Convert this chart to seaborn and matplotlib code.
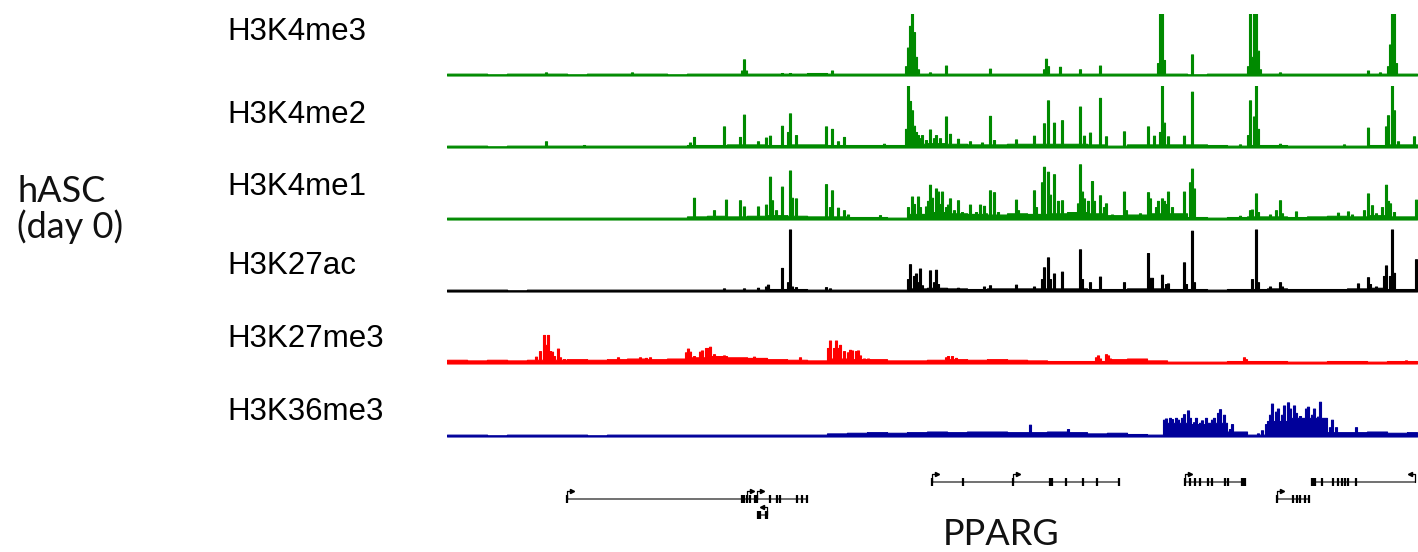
import numpy as np
import pandas as pd
import matplotlib
matplotlib.use("Agg")
import matplotlib.pyplot as plt
import seaborn as sns

W, H = 1418, 552
SPAN = 970  # browser window width, in genome positions (one per screen column)

track_names = ["H3K4me3", "H3K4me2", "H3K4me1", "H3K27ac", "H3K27me3", "H3K36me3"]
track_colors = ["#008a00", "#008a00", "#008a00", "#000000", "#ff0000", "#00009a"]

# background coverage per 20-position block (fraction of the track scale)
k4me3_base = [0.03, 0.03, 0.02, 0.03, 0.03, 0.03, 0.02, 0.03, 0.03, 0.03,
              0.03, 0.02, 0.03, 0.03, 0.03, 0.03, 0.03, 0.03, 0.04, 0.03,
              0.03, 0.03, 0.03, 0.03, 0.03, 0.03, 0.03, 0.03, 0.03, 0.03,
              0.03, 0.03, 0.03, 0.03, 0.03, 0.03, 0.03, 0.02, 0.03, 0.03,
              0.03, 0.03, 0.03, 0.03, 0.03, 0.03, 0.03, 0.03, 0.03]
k4me2_base = [0.03, 0.03, 0.02, 0.03, 0.03, 0.03, 0.03, 0.03, 0.03, 0.03,
              0.03, 0.03, 0.04, 0.04, 0.05, 0.05, 0.04, 0.05, 0.05, 0.04,
              0.04, 0.04, 0.04, 0.06, 0.07, 0.06, 0.05, 0.05, 0.06, 0.06,
              0.06, 0.06, 0.05, 0.03, 0.05, 0.05, 0.05, 0.05, 0.04, 0.03,
              0.04, 0.04, 0.03, 0.03, 0.03, 0.03, 0.04, 0.05, 0.05]
k4me1_base = [0.03, 0.03, 0.03, 0.03, 0.03, 0.03, 0.03, 0.03, 0.03, 0.03,
              0.03, 0.03, 0.05, 0.06, 0.05, 0.06, 0.07, 0.06, 0.05, 0.05,
              0.04, 0.04, 0.03, 0.09, 0.12, 0.1, 0.09, 0.08, 0.1, 0.09,
              0.1, 0.12, 0.1, 0.07, 0.08, 0.1, 0.1, 0.04, 0.03, 0.04,
              0.05, 0.05, 0.04, 0.05, 0.06, 0.05, 0.07, 0.05, 0.05]
k27ac_base = [0.03, 0.03, 0.03, 0.02, 0.03, 0.03, 0.03, 0.03, 0.03, 0.03,
              0.03, 0.03, 0.03, 0.03, 0.03, 0.03, 0.04, 0.04, 0.03, 0.03,
              0.03, 0.03, 0.03, 0.05, 0.06, 0.05, 0.04, 0.05, 0.05, 0.05,
              0.05, 0.05, 0.04, 0.04, 0.05, 0.05, 0.04, 0.04, 0.03, 0.04,
              0.04, 0.05, 0.04, 0.04, 0.04, 0.05, 0.06, 0.04, 0.04]
k27me3_base = [0.06, 0.05, 0.06, 0.05, 0.06, 0.06, 0.07, 0.06, 0.07, 0.08,
               0.07, 0.08, 0.1, 0.12, 0.1, 0.09, 0.07, 0.06, 0.05, 0.08,
               0.07, 0.07, 0.05, 0.05, 0.06, 0.07, 0.06, 0.07, 0.06, 0.05,
               0.04, 0.04, 0.04, 0.07, 0.08, 0.05, 0.03, 0.03, 0.03, 0.04,
               0.04, 0.04, 0.03, 0.03, 0.04, 0.04, 0.03, 0.04, 0.04]
k36me3_base = [0.03, 0.03, 0.02, 0.03, 0.03, 0.03, 0.03, 0.02, 0.03, 0.03,
               0.03, 0.03, 0.03, 0.03, 0.03, 0.03, 0.03, 0.03, 0.03, 0.05,
               0.06, 0.07, 0.06, 0.07, 0.08, 0.07, 0.08, 0.08, 0.07, 0.07,
               0.08, 0.07, 0.05, 0.06, 0.04, 0.03, 0.22, 0.2, 0.22, 0.08,
               0.03, 0.25, 0.3, 0.3, 0.07, 0.07, 0.08, 0.06, 0.07]

# enriched bins: (position, height as fraction of the track scale)
k4me3_peaks = [(98, 0.05), (185, 0.05), (294, 0.08), (296, 0.26), (298, 0.08),
               (335, 0.04), (343, 0.04), (385, 0.08), (458, 0.15), (460, 0.45),
               (462, 0.8), (464, 1.0), (466, 0.7), (468, 0.3), (470, 0.1),
               (483, 0.05), (498, 0.16), (543, 0.11), (596, 0.1), (599, 0.27),
               (601, 0.15), (613, 0.14), (633, 0.1), (653, 0.16), (711, 0.2),
               (713, 1.0), (715, 1.0), (717, 0.25), (745, 0.34), (801, 0.15),
               (803, 1.0), (805, 0.3), (807, 1.0), (809, 1.0), (811, 0.4),
               (813, 0.1), (833, 0.05), (920, 0.08), (933, 0.05), (941, 0.15),
               (943, 0.5), (945, 1.0), (947, 1.0), (949, 0.2)]
k4me2_peaks = [(98, 0.1), (136, 0.04), (243, 0.08), (246, 0.17), (270, 0.04),
               (277, 0.34), (293, 0.17), (296, 0.53), (311, 0.1), (318, 0.16),
               (322, 0.19), (334, 0.35), (340, 0.25), (342, 0.55), (348, 0.2),
               (379, 0.34), (385, 0.3), (391, 0.1), (396, 0.17), (436, 0.06),
               (459, 0.3), (461, 1.0), (463, 0.75), (465, 0.6), (467, 0.35),
               (469, 0.25), (471, 0.2), (473, 0.15), (475, 0.2), (478, 0.12),
               (482, 0.29), (486, 0.15), (489, 0.2), (493, 0.15), (498, 0.5),
               (503, 0.22), (511, 0.14), (523, 0.1), (535, 0.08), (543, 0.51),
               (546, 0.12), (568, 0.13), (586, 0.19), (597, 0.39), (600, 0.76),
               (607, 0.4), (614, 0.44), (632, 0.66), (637, 0.19), (643, 0.24),
               (653, 0.8), (659, 0.18), (676, 0.26), (700, 0.34), (706, 0.19),
               (713, 0.25), (715, 1.0), (717, 0.4), (720, 0.18), (737, 0.19),
               (745, 0.9), (793, 0.05), (801, 0.2), (803, 0.76), (806, 0.5),
               (808, 1.0), (811, 0.3), (833, 0.06), (896, 0.05), (920, 0.32),
               (938, 0.34), (941, 0.52), (944, 1.0), (946, 0.6), (950, 0.1),
               (966, 0.18)]
k4me1_peaks = [(246, 0.35), (266, 0.15), (278, 0.32), (293, 0.31), (296, 0.21),
               (311, 0.21), (318, 0.24), (322, 0.69), (325, 0.31), (328, 0.15),
               (334, 0.53), (342, 0.79), (345, 0.35), (348, 0.34), (379, 0.57),
               (382, 0.2), (385, 0.47), (390, 0.19), (396, 0.15), (400, 0.08),
               (433, 0.07), (461, 0.2), (464, 0.37), (467, 0.25), (470, 0.37),
               (473, 0.2), (478, 0.21), (480, 0.3), (483, 0.56), (485, 0.35),
               (488, 0.5), (490, 0.45), (493, 0.25), (495, 0.45), (498, 0.2),
               (500, 0.24), (503, 0.34), (506, 0.15), (511, 0.31), (515, 0.12),
               (523, 0.24), (528, 0.12), (532, 0.24), (536, 0.22), (539, 0.1),
               (543, 0.47), (546, 0.44), (550, 0.12), (568, 0.32), (571, 0.15),
               (586, 0.47), (589, 0.2), (595, 0.6), (597, 0.85), (600, 0.77),
               (603, 0.4), (607, 0.73), (610, 0.3), (614, 0.31), (623, 0.1),
               (630, 0.26), (632, 0.89), (635, 0.45), (637, 0.34), (640, 0.3),
               (644, 0.62), (647, 0.3), (653, 0.39), (656, 0.2), (659, 0.26),
               (665, 0.08), (676, 0.45), (679, 0.15), (693, 0.1), (700, 0.44),
               (703, 0.34), (708, 0.2), (711, 0.3), (714, 0.34), (716, 0.3),
               (719, 0.25), (721, 0.45), (724, 0.2), (737, 0.45), (743, 0.6),
               (745, 0.82), (747, 0.5), (793, 0.06), (803, 0.15), (805, 0.16),
               (808, 0.42), (811, 0.12), (823, 0.08), (829, 0.15), (832, 0.31),
               (835, 0.1), (848, 0.13), (891, 0.11), (901, 0.13), (905, 0.08),
               (917, 0.15), (920, 0.42), (925, 0.23), (929, 0.1), (935, 0.2),
               (938, 0.56), (941, 0.3), (943, 0.26), (947, 0.12), (968, 0.32)]
k27ac_peaks = [(276, 0.05), (296, 0.05), (311, 0.06), (319, 0.08), (321, 0.11),
               (334, 0.38), (340, 0.15), (342, 1.0), (345, 0.08), (348, 0.07),
               (379, 0.07), (383, 0.05), (461, 0.2), (463, 0.44), (466, 0.25),
               (468, 0.29), (470, 0.15), (472, 0.37), (475, 0.1), (483, 0.34),
               (486, 0.15), (488, 0.35), (490, 0.12), (511, 0.06), (536, 0.08),
               (543, 0.1), (569, 0.11), (586, 0.08), (594, 0.2), (596, 0.39),
               (600, 0.55), (603, 0.2), (607, 0.29), (614, 0.32), (632, 0.68),
               (634, 0.2), (642, 0.15), (653, 0.24), (676, 0.15), (700, 0.62),
               (703, 0.22), (705, 0.22), (715, 0.27), (718, 0.12), (721, 0.13),
               (737, 0.47), (739, 0.12), (745, 0.98), (747, 0.15), (805, 0.2),
               (808, 1.0), (810, 0.15), (822, 0.08), (832, 0.15), (835, 0.08),
               (911, 0.13), (920, 0.23), (922, 0.12), (929, 0.08), (937, 0.25),
               (939, 0.42), (943, 0.25), (945, 1.0), (947, 0.3), (968, 0.52)]
k27me3_peaks = [(88, 0.11), (92, 0.2), (96, 0.46), (98, 0.3), (100, 0.46),
                (102, 0.2), (104, 0.19), (106, 0.12), (110, 0.24), (113, 0.1),
                (116, 0.07), (170, 0.1), (193, 0.1), (198, 0.09), (203, 0.1),
                (238, 0.18), (240, 0.24), (243, 0.19), (246, 0.12), (249, 0.1),
                (253, 0.19), (255, 0.21), (258, 0.25), (261, 0.25), (263, 0.27),
                (266, 0.15), (276, 0.13), (283, 0.08), (306, 0.11), (353, 0.1),
                (381, 0.25), (383, 0.37), (386, 0.25), (388, 0.37), (391, 0.25),
                (393, 0.3), (396, 0.2), (400, 0.18), (403, 0.22), (405, 0.21),
                (408, 0.2), (410, 0.21), (413, 0.13), (416, 0.08), (420, 0.08),
                (498, 0.1), (501, 0.12), (504, 0.12), (508, 0.09), (648, 0.1),
                (650, 0.13), (653, 0.08), (658, 0.15), (660, 0.13), (663, 0.08),
                (796, 0.1), (799, 0.07), (958, 0.05)]
k36me3_peaks = [(582, 0.19), (620, 0.12), (716, 0.27), (719, 0.29), (722, 0.3),
                (725, 0.28), (728, 0.3), (731, 0.27), (734, 0.3), (737, 0.36),
                (740, 0.42), (743, 0.3), (746, 0.23), (749, 0.3), (752, 0.22),
                (755, 0.26), (758, 0.3), (761, 0.22), (764, 0.27), (767, 0.3),
                (770, 0.38), (773, 0.44), (776, 0.35), (779, 0.2), (782, 0.12),
                (785, 0.2), (788, 0.08), (811, 0.05), (815, 0.1), (819, 0.2),
                (822, 0.35), (825, 0.53), (828, 0.4), (831, 0.45), (834, 0.35),
                (837, 0.5), (840, 0.55), (843, 0.45), (846, 0.5), (849, 0.38),
                (852, 0.33), (855, 0.3), (858, 0.45), (861, 0.48), (864, 0.35),
                (867, 0.45), (870, 0.32), (873, 0.56), (876, 0.3), (879, 0.2),
                (882, 0.15), (885, 0.27), (888, 0.15), (891, 0.06), (908, 0.15)]

track_bases = [k4me3_base, k4me2_base, k4me1_base, k27ac_base, k27me3_base, k36me3_base]
track_peaks = [k4me3_peaks, k4me2_peaks, k4me1_peaks, k27ac_peaks, k27me3_peaks, k36me3_peaks]

# gene models (RefSeq-style): body, exons, transcription start sites
gene_start = [120, 311, 485, 738, 865, 830]
gene_end = [361, 320, 672, 798, 968, 863]
gene_strand = ["+", "-", "+", "+", "-", "+"]
gene_row = [1, 2, 0, 0, 0, 1]
gene_exons = [
    [120, 295, 297, 300, 303, 308, 310, 323, 330, 333, 350, 355, 360],
    [311, 313, 319, 320],
    [485, 516, 566, 603, 605, 619, 636, 650, 672],
    [738, 743, 748, 753, 761, 765, 778, 781, 795, 796, 798],
    [865, 866, 868, 875, 886, 891, 895, 898, 901, 909],
    [830, 846, 850, 853, 858, 862],
]
gene_tss = [[120, 300, 310], [320], [485, 566], [738], [968], [830]]
gene_label = "PPARG"
sample_label = ["hASC", "(day 0)"]

# ---------------------------------------------------------------- layout
sns.set_style("white")
plt.rcParams["font.family"] = ["Liberation Sans", "DejaVu Sans"]

fig = plt.figure(figsize=(W / 100, H / 100), dpi=100)
fig.patch.set_facecolor("white")

track_floor = [75.5, 147.5, 219.5, 291.5, 363.5, 436.5]   # px from top
track_label_y = [32.5, 115, 187, 266, 339, 412]
track_scale = 62
x0 = 447

BIN = 2
centers = np.arange(0, SPAN, BIN) + BIN / 2


def coverage(base, peaks):
    vals = np.array([base[int(c // 20)] for c in centers], dtype=float)
    for p, h in peaks:
        i = min(int(p // BIN), len(vals) - 1)
        vals[i] = max(vals[i], h)
    return pd.DataFrame({"pos": centers, "cov": vals})


for name, color, base, peaks, floor, ly in zip(track_names, track_colors, track_bases,
                                               track_peaks, track_floor, track_label_y):
    ax = fig.add_axes([x0 / W, 1 - floor / H, SPAN / W, track_scale / H])
    df = coverage(base, peaks)
    sns.histplot(data=df, x="pos", weights="cov", binwidth=BIN, binrange=(0, SPAN),
                 element="step", fill=True, color=color, alpha=1.0, linewidth=0.8, ax=ax)
    ax.set_xlim(0, SPAN)
    ax.set_ylim(0, 1)
    ax.axis("off")
    fig.text(227 / W, 1 - ly / H, name, fontsize=22.5, ha="left", va="center",
             color="black")

# gene track
gax = fig.add_axes([x0 / W, 1 - 530 / H, SPAN / W, 70 / H])
gax.set_xlim(0, SPAN)
gax.set_ylim(530, 460)
gax.axis("off")
row_y = [482, 498.5, 515]
for s, e, strand, row, exons, tss in zip(gene_start, gene_end, gene_strand,
                                          gene_row, gene_exons, gene_tss):
    y = row_y[row]
    gax.hlines(y, s, e, color="#4a4a4a", lw=1.1)
    gax.vlines(exons, y - 4, y + 4, color="black", lw=1.6)
    for t in tss:
        d = 5 if strand == "+" else -5
        gax.plot([t, t, t + d], [y, y - 8, y - 8], color="black", lw=0.9)
        gax.plot(t + d, y - 8, marker=">" if strand == "+" else "<", ms=3,
                 color="black", mec="black")

label_font = dict(fontsize=26, family=["Lato", "DejaVu Sans"], fontweight="normal",
                  ha="left", va="baseline", color="#111111")
fig.text(943 / W, 1 - 545 / H, gene_label, **label_font)
fig.text(17 / W, 1 - 202 / H, sample_label[0], **label_font)
fig.text(17 / W, 1 - 238 / H, sample_label[1], **label_font)

fig.savefig("out.png", dpi=100, facecolor="white")
